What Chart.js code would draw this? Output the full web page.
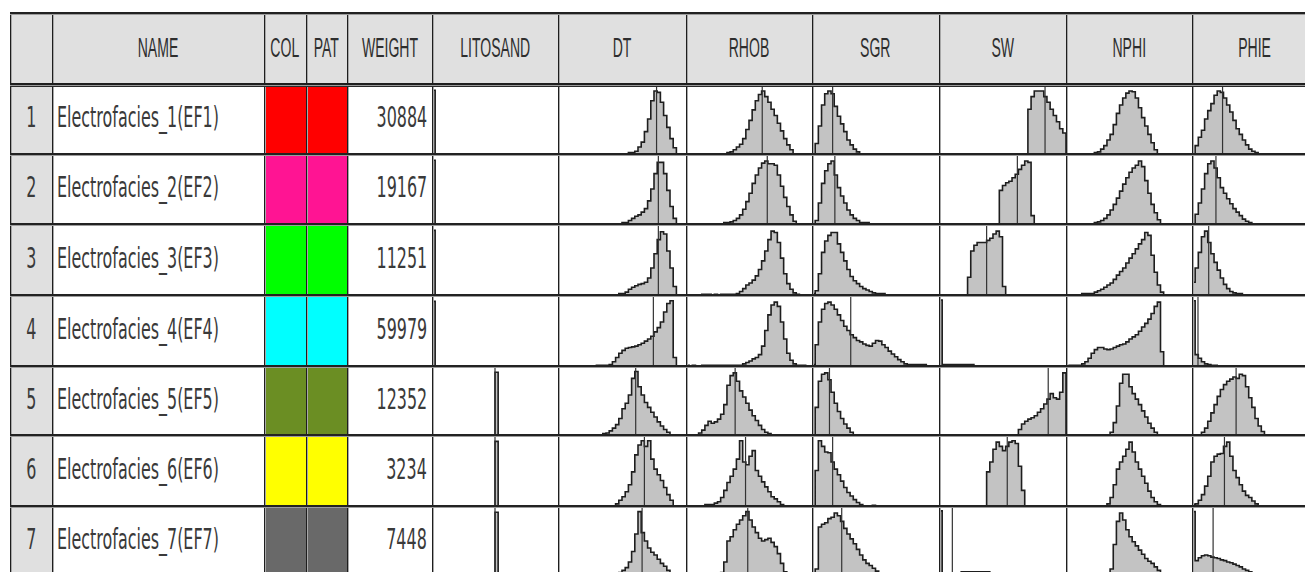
<!DOCTYPE html>
<html>
<head>
<meta charset="utf-8">
<title>Electrofacies summary</title>
<script src="https://cdn.jsdelivr.net/npm/chart.js@4.4.1/dist/chart.umd.min.js"></script>
<style>
  html, body { margin: 0; width: 1305px; height: 572px; overflow: hidden; background: #fff; }
  #grid { position: absolute; left: 0; top: 0; width: 1305px; height: 572px; overflow: hidden; }
  .cell { position: absolute; box-sizing: border-box; display: flex; align-items: center; overflow: hidden; }
  .cell span { white-space: nowrap; color: #2e2e2e; display: inline-block; }
  .hd { justify-content: center; }
  .hd span { font-family: 'Liberation Sans', Arial, sans-serif; font-size: 27px; transform: scaleX(0.52); transform-origin: center; }
  .tx span { font-family: 'DejaVu Sans', sans-serif; font-size: 29px; color: #3a3a3a; transform: scaleX(0.55); margin-top: -4px; }
  .num { justify-content: center; }
  .num span { transform-origin: center; }
  .name { justify-content: flex-start; padding-left: 5px; }
  .name span { transform-origin: left center; }
  .wt { justify-content: flex-end; padding-right: 5px; }
  .wt span { transform-origin: right center; }
  canvas { position: absolute; }
  .ln { position: absolute; }
</style>
</head>
<body>
<div id="grid"></div>
<script>
// ---- facies table -----------------------------------------------------------
const faciesNames = [
  'Electrofacies_1(EF1)', 'Electrofacies_2(EF2)', 'Electrofacies_3(EF3)', 'Electrofacies_4(EF4)',
  'Electrofacies_5(EF5)', 'Electrofacies_6(EF6)', 'Electrofacies_7(EF7)',
];
const faciesColors = ['#ff0000', '#ff1493', '#00ff00', '#00ffff', '#6b8e23', '#ffff00', '#696969'];
const faciesWeights = [30884, 19167, 11251, 59979, 12352, 3234, 7448];

const curveNames = ['LITOSAND', 'DT', 'RHOB', 'SGR', 'SW', 'NPHI', 'PHIE'];
const curveMin = [0, 40, 1.9, 0, 0, 0, 0];
const curveMax = [2, 140, 2.9, 200, 1, 0.6, 0.4];
const BIN_COUNT = 40;

// per facies: [first bin, relative frequency of each bin (% of cell height)]
const litosandHist = [
  [0, [91]], [0, [91]], [0, [91]], [0, [91]], [20, [91]], [20, [91]], [20, [91]],
];
const litosandMean = [0, 0, 0, 0, 1, 1, 1];

const dtHist = [
  [22, [2, 2, 4, 10, 17, 32, 50, 76, 90, 88, 74, 55, 38, 22, 9]],
  [20, [2, 2, 5, 8, 11, 13, 17, 22, 33, 50, 72, 88, 88, 72, 48, 25, 8]],
  [19, [2, 2, 4, 8, 11, 13, 15, 16, 18, 24, 38, 58, 78, 89, 86, 62, 38, 12]],
  [12, [1, 1, 1, 1, 2, 6, 12, 18, 22, 25, 26, 27, 28, 30, 32, 35, 38, 42, 48, 54, 62, 76, 88, 92, 12]],
  [14, [2, 3, 6, 10, 15, 24, 38, 46, 58, 82, 92, 70, 58, 47, 40, 33, 26, 19, 13, 8, 4]],
  [18, [3, 8, 13, 20, 30, 48, 72, 86, 92, 84, 92, 66, 52, 44, 36, 26, 16, 8]],
  [17, [2, 3, 5, 8, 12, 20, 35, 60, 92, 62, 50, 40, 34, 30, 24, 18, 14, 8, 3]],
];
const dtMean = [117.0, 118.4, 118.4, 114.5, 100.7, 107.5, 105.7];

const rhobHist = [
  [13, [2, 3, 6, 10, 14, 22, 35, 48, 63, 76, 85, 90, 82, 74, 64, 55, 44, 33, 22, 13, 6]],
  [12, [2, 2, 3, 5, 8, 13, 21, 32, 44, 58, 70, 80, 87, 90, 86, 86, 84, 70, 54, 38, 25, 13, 4]],
  [5, [1, 1, 1, 0, 1, 0, 1, 1, 1, 1, 1, 2, 5, 9, 14, 17, 21, 27, 36, 48, 62, 78, 90, 88, 74, 52, 30, 16, 8, 3, 1]],
  [0, [1, 0, 1, 0, 0, 1, 1, 1, 1, 1, 1, 1, 1, 1, 1, 1, 1, 1, 3, 5, 7, 10, 12, 16, 28, 50, 72, 86, 90, 84, 62, 38, 18, 8, 3, 1, 1, 1]],
  [4, [3, 7, 14, 20, 17, 19, 23, 30, 44, 72, 86, 90, 78, 64, 55, 46, 36, 28, 21, 14, 8, 4, 2]],
  [6, [2, 2, 2, 4, 6, 12, 22, 33, 42, 52, 66, 92, 62, 58, 70, 78, 50, 42, 34, 27, 20, 13, 10, 6, 2]],
  [4, [2, 2, 2, 2, 2, 2, 3, 5, 20, 50, 56, 66, 74, 80, 86, 92, 80, 70, 62, 54, 50, 52, 54, 48, 42, 32, 18, 6]],
];
const rhobMean = [2.505, 2.545, null, null, 2.29, 2.3725, 2.39];

const sgrHist = [
  [1, [15, 40, 70, 86, 90, 86, 68, 54, 43, 32, 20, 13, 7, 3]],
  [1, [5, 30, 58, 76, 86, 90, 70, 52, 40, 30, 20, 13, 8, 5, 2, 2, 2]],
  [0, [2, 6, 30, 60, 76, 84, 88, 88, 72, 60, 48, 36, 26, 20, 16, 12, 9, 7, 5, 3, 2, 2, 2]],
  [0, [2, 30, 62, 80, 88, 90, 86, 80, 72, 64, 56, 50, 44, 40, 36, 34, 31, 29, 28, 32, 36, 35, 30, 26, 21, 17, 13, 9, 6, 3, 2, 2, 2, 2, 2, 2]],
  [1, [40, 78, 88, 90, 80, 62, 46, 34, 24, 16, 10, 4]],
  [1, [50, 92, 84, 76, 75, 62, 52, 44, 35, 26, 19, 14, 9, 5, 2, 0, 0, 0, 1]],
  [1, [10, 70, 74, 76, 82, 84, 90, 86, 78, 68, 60, 53, 46, 38, 30, 23, 18, 15, 11, 7, 4, 2]],
];
const sgrMean = [32.5, 36, null, 61, 27.5, 32.5, 46.8];

const swHist = [
  [28, [64, 82, 90, 90, 90, 82, 74, 64, 55, 46, 36, 30]],
  [19, [48, 55, 59, 61, 66, 71, 78, 84, 90, 88, 12]],
  [9, [25, 62, 70, 74, 74, 74, 77, 80, 86, 90, 82, 12]],
  [0, [93, 2, 2, 2, 2, 2, 2, 2, 2, 2, 2]],
  [25, [8, 16, 20, 23, 25, 28, 33, 38, 45, 52, 60, 54, 52, 62, 90]],
  [15, [48, 62, 80, 90, 84, 78, 84, 90, 92, 88, 56, 22]],
  [0, [93, 2, 2, 2, 2, 2, 2, 6, 6, 6, 6, 6, 6, 6, 6, 6, 4, 3, 2]],
];
const swMean = [0.835, 0.617, 0.375, 0.005, 0.86, 0.5375, 0.105];

const nphiHist = [
  [9, [2, 3, 7, 12, 20, 28, 42, 58, 70, 80, 87, 90, 89, 80, 66, 52, 40, 28, 16, 6]],
  [9, [2, 3, 5, 8, 13, 20, 28, 37, 47, 57, 66, 74, 80, 84, 90, 82, 62, 44, 28, 16, 6]],
  [5, [2, 2, 2, 2, 4, 6, 8, 11, 14, 17, 22, 28, 33, 38, 45, 52, 58, 65, 72, 78, 88, 84, 56, 32, 14, 4]],
  [1, [1, 1, 1, 1, 3, 6, 11, 18, 23, 26, 26, 24, 23, 24, 26, 28, 30, 31, 34, 38, 41, 44, 49, 55, 60, 66, 74, 84, 90, 20]],
  [14, [4, 18, 42, 75, 88, 88, 70, 60, 52, 44, 35, 26, 17, 10, 4]],
  [13, [3, 12, 30, 52, 62, 70, 80, 90, 76, 62, 52, 42, 32, 21, 12, 6, 2]],
  [14, [10, 45, 78, 90, 80, 66, 56, 49, 43, 37, 31, 25, 21, 18, 13, 8, 4]],
];
const nphiMean = [null, null, null, null, null, null, null];

const phieHist = [
  [1, [12, 24, 34, 50, 62, 72, 84, 90, 88, 80, 70, 60, 48, 36, 28, 20, 13, 7, 4, 2]],
  [1, [14, 30, 50, 72, 86, 90, 80, 66, 52, 44, 36, 29, 22, 17, 12, 7, 4, 2]],
  [0, [18, 38, 60, 82, 90, 74, 58, 46, 35, 24, 15, 9, 5, 3, 2, 2]],
  [0, [92, 16, 11, 6, 3, 2, 1, 1]],
  [3, [4, 10, 20, 32, 44, 56, 66, 73, 78, 81, 84, 82, 88, 86, 70, 54, 40, 24, 13, 5]],
  [0, [2, 3, 8, 16, 28, 42, 62, 70, 73, 74, 84, 90, 70, 50, 40, 30, 21, 15, 12, 7, 3]],
  [0, [92, 22, 26, 29, 30, 29, 27, 26, 25, 23, 22, 20, 19, 17, 15, 13, 10, 8, 6, 4, 2]],
];
const phieMean = [0.097, 0.076, 0.053, 0.019, 0.14, 0.103, 0.067];

const curveHist = [litosandHist, dtHist, rhobHist, sgrHist, swHist, nphiHist, phieHist];
const curveMean = [litosandMean, dtMean, rhobMean, sgrMean, swMean, nphiMean, phieMean];

// ---- layout -----------------------------------------------------------------
const COL_X = [10, 52, 264, 306, 347, 432, 558, 686, 812, 939, 1066, 1192, 1318];
const ROW_Y = [13, 84, 154, 224, 295, 366, 435, 506, 576];
const HEADER_BG = '#e0e0e0';

const grid = document.getElementById('grid');

function box(x0, y0, x1, y1, cls, bg) {
  const d = document.createElement('div');
  d.className = 'cell ' + (cls || '');
  d.style.left = x0 + 'px';
  d.style.top = y0 + 'px';
  d.style.width = (x1 - x0) + 'px';
  d.style.height = (y1 - y0) + 'px';
  if (bg) d.style.background = bg;
  grid.appendChild(d);
  return d;
}

function label(cell, text) {
  const s = document.createElement('span');
  s.textContent = text;
  cell.appendChild(s);
}

// header row
const headers = ['', 'NAME', 'COL', 'PAT', 'WEIGHT', ...curveNames];
headers.forEach((h, i) => {
  const c = box(COL_X[i], ROW_Y[0], COL_X[i + 1], ROW_Y[1], 'hd', HEADER_BG);
  if (h) label(c, h);
});

// step outline of one histogram, bins counted from the curve minimum
function stepPoints(first, freq, lo, bw) {
  const pts = [{ x: lo + first * bw, y: 0 }];
  freq.forEach((f, i) => pts.push({ x: lo + (first + i) * bw, y: f }));
  pts.push({ x: lo + (first + freq.length) * bw, y: 0 });
  return pts;
}

function drawHistogram(x0, y0, x1, y1, ci, ri) {
  const canvas = document.createElement('canvas');
  canvas.width = x1 - x0;
  canvas.height = y1 - y0;
  canvas.style.left = x0 + 'px';
  canvas.style.top = y0 + 'px';
  grid.appendChild(canvas);

  const lo = curveMin[ci];
  const hi = curveMax[ci];
  const bw = (hi - lo) / BIN_COUNT;
  const [first, freq] = curveHist[ci][ri];
  const mean = curveMean[ci][ri];

  const datasets = [{
    data: stepPoints(first, freq, lo, bw),
    stepped: 'before',
    fill: 'origin',
    backgroundColor: '#c3c3c3',
    borderColor: '#1e1e1e',
    borderWidth: 1.6,
    pointRadius: 0,
    order: 1,
  }];
  if (mean !== null) {
    datasets.push({
      data: [{ x: mean, y: 0 }, { x: mean, y: 100 }],
      borderColor: '#333',
      borderWidth: 1.2,
      pointRadius: 0,
      fill: false,
      order: 0,
    });
  }

  new Chart(canvas.getContext('2d'), {
    type: 'line',
    data: { datasets },
    options: {
      responsive: false,
      animation: false,
      events: [],
      layout: { padding: 0 },
      plugins: { legend: { display: false }, tooltip: { enabled: false } },
      scales: {
        x: { type: 'linear', min: lo, max: hi, display: false },
        y: { min: 0, max: 100, display: false },
      },
    },
  });
}

// facies rows
faciesNames.forEach((name, r) => {
  const y0 = ROW_Y[r + 1];
  const y1 = ROW_Y[r + 2];
  label(box(COL_X[0], y0, COL_X[1], y1, 'tx num', HEADER_BG), String(r + 1));
  label(box(COL_X[1], y0, COL_X[2], y1, 'tx name'), name);
  box(COL_X[2], y0, COL_X[3], y1, '', faciesColors[r]);
  box(COL_X[3], y0, COL_X[4], y1, '', faciesColors[r]);
  label(box(COL_X[4], y0, COL_X[5], y1, 'tx wt'), String(faciesWeights[r]));
  curveNames.forEach((_, ci) => drawHistogram(COL_X[5 + ci], y0, COL_X[6 + ci], y1, ci, r));
});

// grid lines on top
function line(x, y, w, h, color) {
  const d = document.createElement('div');
  d.className = 'ln';
  Object.assign(d.style, { left: x + 'px', top: y + 'px', width: w + 'px', height: h + 'px', background: color });
  grid.appendChild(d);
}

const gridBottom = ROW_Y[ROW_Y.length - 1];
COL_X.forEach((x) => {
  line(x, ROW_Y[0], 1, gridBottom - ROW_Y[0], '#1e1e1e');
  line(x + 1, ROW_Y[0], 1, gridBottom - ROW_Y[0], '#a8a8a8');
});
ROW_Y.forEach((y, i) => {
  const w = COL_X[COL_X.length - 1] - COL_X[0];
  if (i === 1) {
    line(COL_X[0], y - 1, w, 2, '#1e1e1e');
    line(COL_X[0], y + 1, w, 1, '#9a9a9a');
    line(COL_X[0], y + 2, w, 1, '#2a2a2a');
  } else {
    line(COL_X[0], y - 1, w, 2, '#222');
    line(COL_X[0], y + 1, w, 1, '#9c9c9c');
  }
});
</script>
</body>
</html>
